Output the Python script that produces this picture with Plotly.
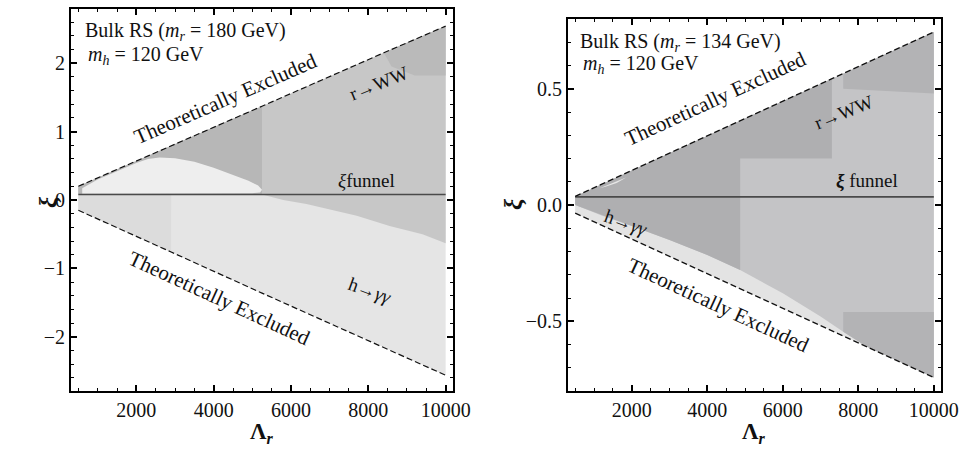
import plotly.graph_objects as go

# ---------------- data ----------------
# Left panel: m_r = 180 GeV
L_LAM = [500, 2300, 2900, 5250, 8400, 10000]
L_UP = [0.20, 0.64, 0.79, 1.37, 2.15, 2.54]      # theoretical upper bound
L_LO = [-0.15, -0.60, -0.76, -1.36, -2.15, -2.56]  # theoretical lower bound
L_FUNNEL = 0.08
L_WW_EDGE_LAM = [10000, 9400, 8550, 7700, 6400, 5800, 5250]
L_WW_EDGE_XI = [-0.63, -0.50, -0.38, -0.23, -0.06, 0.00, 0.08]
L_ISLAND_LAM = [600, 1000, 1500, 2000, 2300, 2600, 3000, 3500, 4000, 4500, 4900, 5150, 5250, 5200, 5000, 600]
L_ISLAND_XI = [0.17, 0.30, 0.42, 0.54, 0.60, 0.62, 0.61, 0.56, 0.47, 0.37, 0.28, 0.21, 0.15, 0.11, 0.10, 0.09]
L_CORNER_LAM = [8400, 8600, 9200, 10000, 10000]
L_CORNER_XI = [2.15, 1.95, 1.82, 1.82, 2.54]

# Right panel: m_r = 134 GeV
R_LAM = [500, 4870, 7300, 7600, 8200, 10000]
R_UP = [0.037, 0.362, 0.543, 0.565, 0.610, 0.744]
R_LO = [-0.035, -0.360, -0.541, -0.563, -0.608, -0.742]
R_FUNNEL = 0.035
R_WW_EDGE_LAM = [8200, 7600, 7000, 6000, 5000, 4870, 4000, 3000, 2000, 1200, 500]
R_WW_EDGE_XI = [-0.605, -0.545, -0.48, -0.38, -0.29, -0.28, -0.215, -0.15, -0.09, -0.045, 0.0]
R_LEAF_LAM = [1150, 1400, 1750, 1850, 1600, 1300]
R_LEAF_XI = [0.072, 0.090, 0.112, 0.118, 0.095, 0.078]
R_TOPC_LAM = [7600, 10000, 10000, 7600]
R_TOPC_XI = [0.565, 0.744, 0.48, 0.50]
R_BOTC_LAM = [7600, 10000, 10000, 8200, 7600]
R_BOTC_XI = [-0.46, -0.46, -0.742, -0.608, -0.545]

X_TICKS = [2000, 4000, 6000, 8000, 10000]
X_TICKTEXT = ["2000", "4000", "6000", "8000", "10000"]
L_YTICKS = [-2, -1, 0, 1, 2]
R_YTICKS = [-0.5, 0.0, 0.5]

FONT = "Liberation Serif"
W, H = 960, 449

fig = go.Figure()


def poly(xs, ys, color, ax="1"):
    fig.add_trace(go.Scatter(
        x=list(xs) + [xs[0]], y=list(ys) + [ys[0]], fill="toself", fillcolor=color,
        mode="lines", line=dict(width=0, color=color), hoverinfo="skip",
        showlegend=False, xaxis="x" if ax == "1" else "x2", yaxis="y" if ax == "1" else "y2"))


def line(xs, ys, color, width, dash=None, ax="1"):
    fig.add_trace(go.Scatter(
        x=xs, y=ys, mode="lines", line=dict(color=color, width=width, dash=dash),
        hoverinfo="skip", showlegend=False,
        xaxis="x" if ax == "1" else "x2", yaxis="y" if ax == "1" else "y2"))


# ---------- left panel ----------
poly(L_LAM + L_LAM[::-1], L_UP + L_LO[::-1], "#e5e5e5")
i29 = L_LAM.index(2900)
poly([L_LAM[0], L_LAM[i29], L_LAM[i29], L_LAM[0]],
     [L_FUNNEL, L_FUNNEL, L_LO[i29], L_LO[0]], "#dcdcdc")
poly(L_LAM + L_WW_EDGE_LAM + [L_LAM[0]],
     L_UP + L_WW_EDGE_XI + [L_FUNNEL], "#c7c7c7")
i52 = L_LAM.index(5250)
poly(L_LAM[:i52 + 1] + [L_LAM[i52], L_LAM[0]],
     L_UP[:i52 + 1] + [L_FUNNEL, L_FUNNEL], "#b7b7b7")
poly(L_CORNER_LAM, L_CORNER_XI, "#bababa")
poly(L_ISLAND_LAM, L_ISLAND_XI, "#eeeeee")
line([L_LAM[0], L_LAM[-1]], [L_FUNNEL, L_FUNNEL], "#4a4a4a", 1.6)
line(L_LAM, L_UP, "#111111", 1.2, "6px,3px")
line(L_LAM, L_LO, "#111111", 1.2, "6px,3px")

# ---------- right panel ----------
poly(R_LAM + R_LAM[::-1], R_UP + R_LO[::-1], "#e3e3e3", "2")
i82 = R_LAM.index(8200)
poly(R_LAM + [R_LAM[-1]] + R_LAM[i82:][::-1] + R_WW_EDGE_LAM,
     R_UP + [R_LO[-1]] + R_LO[i82:][::-1] + R_WW_EDGE_XI, "#c4c4c6", "2")
i48 = R_LAM.index(4870)
i73 = R_LAM.index(7300)
j48 = R_WW_EDGE_LAM.index(4870)
poly(R_LAM[:i73 + 1] + [R_LAM[i73], R_LAM[i48]] + R_WW_EDGE_LAM[j48:],
     R_UP[:i73 + 1] + [0.2, 0.2] + R_WW_EDGE_XI[j48:], "#afafb1", "2")
poly(R_TOPC_LAM, R_TOPC_XI, "#b3b3b5", "2")
poly(R_BOTC_LAM, R_BOTC_XI, "#b3b3b5", "2")
poly(R_LEAF_LAM, R_LEAF_XI, "#e6e6e6", "2")
line([R_LAM[0], R_LAM[-1]], [R_FUNNEL, R_FUNNEL], "#4a4a4a", 1.6, ax="2")
line(R_LAM, R_UP, "#111111", 1.2, "6px,3px", ax="2")
line(R_LAM, R_LO, "#111111", 1.2, "6px,3px", ax="2")

# ---------- axes ----------
TICKFONT = dict(family=FONT, size=20, color="#111")


def xax(domain, anchor):
    return dict(domain=domain, range=[310, 10190], tickvals=X_TICKS, ticktext=X_TICKTEXT,
                ticks="inside", ticklen=6, tickwidth=1.5, tickcolor="black",
                minor=dict(dtick=500, ticks="inside", ticklen=3, tickwidth=1, tickcolor="black"),
                showline=True, linewidth=2, linecolor="black", mirror="allticks",
                showgrid=False, zeroline=False, anchor=anchor, tickfont=TICKFONT,
                automargin=False)


def yax(domain, rng, tickvals, minor, fmt, anchor):
    return dict(domain=domain, range=rng, tickvals=tickvals, tickformat=fmt,
                ticks="inside", ticklen=6, tickwidth=1.5, tickcolor="black",
                minor=dict(dtick=minor, ticks="inside", ticklen=3, tickwidth=1, tickcolor="black"),
                showline=True, linewidth=2, linecolor="black", mirror="allticks",
                showgrid=False, zeroline=False, anchor=anchor, tickfont=TICKFONT,
                automargin=False)


yd = [1 - 391 / H, 1 - 9 / H]
yd2 = [1 - 391 / H, 1 - 19 / H]
fig.update_layout(
    width=W, height=H, margin=dict(l=0, r=0, t=0, b=0, autoexpand=False),
    paper_bgcolor="white", plot_bgcolor="white", showlegend=False,
    xaxis=xax([71 / W, 453 / W], "y"),
    yaxis=yax(yd, [-2.79, 2.79], L_YTICKS, 0.2, "", "x"),
    xaxis2=xax([568 / W, 941 / W], "y2"),
    yaxis2=yax(yd2, [-0.8, 0.8], R_YTICKS, 0.1, ".1f", "x2"),
)


def ann(text, px, py, size=18, angle=0, xanchor="center"):
    fig.add_annotation(text=text, x=px / W, y=1 - py / H, xref="paper", yref="paper",
                       showarrow=False, textangle=angle, xanchor=xanchor, yanchor="middle",
                       font=dict(family=FONT, size=size, color="#111"))


# left panel texts
ann("Bulk RS (<i>m<sub>r</sub></i> = 180 GeV)", 83, 32, 20, xanchor="left")
ann("<i>m<sub>h</sub></i> = 120 GeV", 86, 55, 20, xanchor="left")
ann("Theoretically Excluded", 225, 99, 21, -23.5)
ann("Theoretically Excluded", 219, 298, 21, 24.7)
ann("r→WW", 378, 83, 19, -22)
ann("<i>ξ</i>funnel", 366, 180, 19)
ann("h→<i>γγ</i>", 370, 290, 19, 20)
ann("<b>Λ<sub><i>r</i></sub></b>", 262, 433, 23)
ann("<b><i>ξ</i></b>", 48, 202, 25, -90)

# right panel texts
ann("Bulk RS (<i>m<sub>r</sub></i> = 134 GeV)", 578, 42, 20, xanchor="left")
ann("<i>m<sub>h</sub></i> = 120 GeV", 581, 65, 20, xanchor="left")
ann("Theoretically Excluded", 715, 99, 21, -24.7)
ann("Theoretically Excluded", 718, 305, 21, 24.8)
ann("r→WW", 843, 112, 19, -22)
ann("<b><i>ξ</i></b> funnel", 867, 181, 19)
ann("h→<i>γγ</i>", 626, 222, 19, 20)
ann("<b>Λ<sub><i>r</i></sub></b>", 754, 433, 23)
ann("<b><i>ξ</i></b>", 514, 204, 25, -90)

fig.write_html("out.html")
